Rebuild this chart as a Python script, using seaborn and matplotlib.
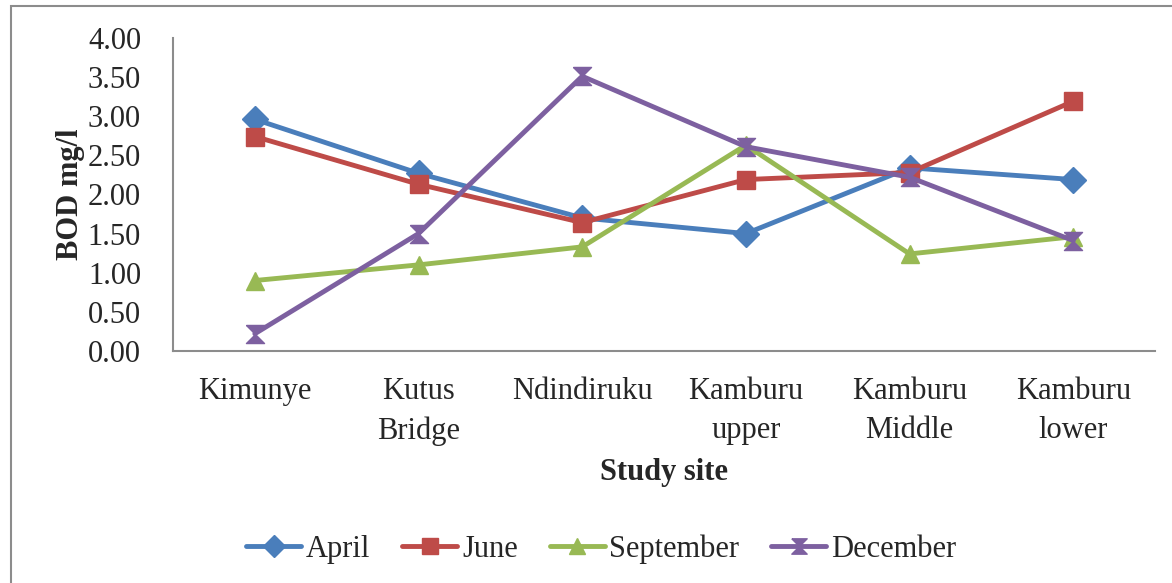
import pandas as pd
import matplotlib.pyplot as plt
import seaborn as sns
from matplotlib.patches import Rectangle

# Dados
sites = ["Kimunye", "Kutus\nBridge", "Ndindiruku", "Kamburu\nupper", "Kamburu\nMiddle", "Kamburu\nlower"]
months = ["April", "June", "September", "December"]
april = [2.96, 2.27, 1.70, 1.50, 2.34, 2.19]
june = [2.74, 2.13, 1.64, 2.19, 2.28, 3.19]
september = [0.90, 1.10, 1.33, 2.63, 1.24, 1.46]
december = [0.22, 1.50, 3.51, 2.61, 2.22, 1.41]

cores = ["#4A7EBB", "#BE4B48", "#98B954", "#7D60A0"]
hourglass = [(-1, 1), (1, 1), (-1, -1), (1, -1), (-1, 1)]
marcadores = {"April": "D", "June": "s", "September": "^", "December": hourglass}

df = pd.DataFrame({
    "site": sites * 4,
    "BOD": april + june + september + december,
    "month": [m for m in months for _ in sites],
})

sns.set_style("white")
plt.rcParams["font.family"] = ["Liberation Serif", "DejaVu Serif"]

fig = plt.figure(figsize=(11.72, 5.83), dpi=100)
ax = fig.add_axes([0.1476, 0.398, 0.838, 0.537])

sns.lineplot(
    data=df, x="site", y="BOD", hue="month", style="month",
    hue_order=months, style_order=months, palette=cores,
    markers=marcadores, dashes=False, sort=False, legend=False,
    linewidth=3.5, markersize=13, ax=ax,
)
for linha in ax.lines:
    linha.set_markeredgecolor(linha.get_color())
    linha.set_markeredgewidth(1)

# Eixos
ax.set_ylim(0, 4)
ax.set_xlim(-0.5, len(sites) - 0.5)
ax.set_yticks([i * 0.5 for i in range(9)])
ax.set_yticklabels([f"{i * 0.5:.2f}" for i in range(9)], fontsize=22)
ax.set_xticks([i - 0.5 for i in range(len(sites) + 1)])
ax.set_xticklabels([])
ax.set_xticks(range(len(sites)), minor=True)
ax.set_xticklabels(sites, minor=True, fontsize=22, linespacing=1.45)
ax.tick_params(axis="x", which="minor", length=0, pad=19)
ax.tick_params(axis="both", which="major", length=8, width=1.5, color="#8c8c8c", direction="out")
ax.tick_params(axis="y", pad=15)
for lado in ["top", "right"]:
    ax.spines[lado].set_visible(False)
for lado in ["left", "bottom"]:
    ax.spines[lado].set_color("#8c8c8c")
    ax.spines[lado].set_linewidth(1.5)

ax.set_xlabel("Study site", fontsize=22, weight="bold", labelpad=9)
ax.set_ylabel("BOD mg/l", fontsize=22, weight="bold", labelpad=2)

# Legenda
fig.legend(
    ax.lines[:4], months, loc="center", bbox_to_anchor=(0.513, 0.058),
    ncol=4, frameon=False, fontsize=22, handlelength=1.8,
    columnspacing=1.05, handletextpad=0.15, markerscale=0.85,
)

# Moldura externa (só topo e esquerda ficam visíveis)
fig.patches.append(Rectangle((0.0094, -0.1), 1.5, 1.09, transform=fig.transFigure,
                             fill=False, edgecolor="#8c8c8c", linewidth=1.5))

fig.savefig("out.png", dpi=100)
